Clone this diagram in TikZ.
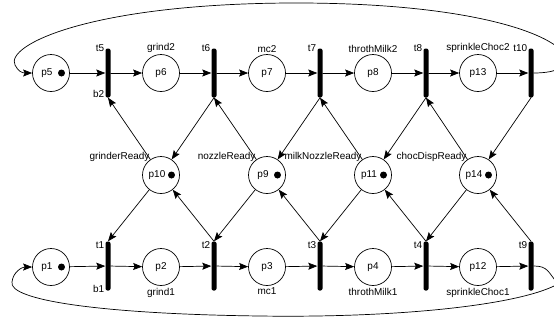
\documentclass[tikz,border=0pt]{standalone}
\usepackage{fontspec}
\setmainfont{Liberation Sans}
\usetikzlibrary{arrows.meta}

\begin{document}
\begin{tikzpicture}[x=1bp,y=-1bp,line join=round,line cap=round,>={Stealth[length=9bp,width=7bp,inset=1.5bp]},font=\fontsize{10}{12}\selectfont,
	place/.style={circle,draw,line width=0.7bp,minimum size=37bp,inner sep=0pt},
	marked/.style={label={[xshift=-4bp]center:#1},path picture={\fill ([xshift=10.5bp]path picture bounding box.center) circle (3.5bp);}},
	plain/.style={label={center:#1}},
	trans/.style={rectangle,fill,minimum width=5bp,minimum height=49bp,inner sep=0pt,rounded corners=2bp},
	arc/.style={->,line width=0.7bp}]
	\useasboundingbox (0,0) rectangle (554,322);
	% upper row
	\node [place,marked=p5] (p5) at (51,73) {};
	\node [trans,label={[anchor=east,inner sep=1bp]north west:t5},label={[anchor=east,inner sep=1bp,yshift=4bp]south west:b2}] (t5) at (108,73) {};
	\node [place,plain=p6,label={[inner sep=1bp]above:grind2}] (p6) at (161,73) {};
	\node [trans,label={[anchor=east,inner sep=1bp]north west:t6}] (t6) at (214,73) {};
	\node [place,plain=p7,label={[inner sep=1bp]above:mc2}] (p7) at (267,73) {};
	\node [trans,label={[anchor=east,inner sep=1bp]north west:t7}] (t7) at (320,73) {};
	\node [place,plain=p8,label={[inner sep=1bp]above:throthMilk2}] (p8) at (373,73) {};
	\node [trans,label={[anchor=east,inner sep=1bp]north west:t8}] (t8) at (426,73) {};
	\node [place,plain=p13,label={[inner sep=1bp]above:sprinkleChoc2}] (p13) at (478,73) {};
	\node [trans,label={[anchor=east,inner sep=1bp]north west:t10}] (t10) at (531,73) {};
	% resources
	\node [place,marked=p10,label={[anchor=south east,inner sep=0pt,xshift=2bp]north west:grinderReady}] (p10) at (161,175) {};
	\node [place,marked=p9,label={[anchor=south east,inner sep=0pt,xshift=2bp]north west:nozzleReady}] (p9) at (267,175) {};
	\node [place,marked=p11,label={[anchor=south east,inner sep=0pt,xshift=2bp]north west:milkNozzleReady}] (p11) at (373,175) {};
	\node [place,marked=p14,label={[anchor=south east,inner sep=0pt,xshift=2bp]north west:chocDispReady}] (p14) at (478,175) {};
	% lower row
	\node [place,marked=p1] (p1) at (51,267) {};
	\node [trans,label={[anchor=east,inner sep=1bp,yshift=-4bp]north west:t1},label={[anchor=east,inner sep=1bp,yshift=2bp]south west:b1}] (t1) at (108,266) {};
	\node [place,plain=p2,label={[inner sep=2bp]below:grind1}] (p2) at (161,267) {};
	\node [trans,label={[anchor=east,inner sep=1bp,yshift=-4bp]north west:t2}] (t2) at (214,266) {};
	\node [place,plain=p3,label={[inner sep=2bp]below:mc1}] (p3) at (267,267) {};
	\node [trans,label={[anchor=east,inner sep=1bp,yshift=-4bp]north west:t3}] (t3) at (320,266) {};
	\node [place,plain=p4,label={[inner sep=2bp]below:throthMilk1}] (p4) at (373,267) {};
	\node [trans,label={[anchor=east,inner sep=1bp,yshift=-4bp]north west:t4}] (t4) at (426,266) {};
	\node [place,plain=p12,label={[inner sep=2bp]below:sprinkleChoc1}] (p12) at (478,267) {};
	\node [trans,label={[anchor=east,inner sep=1bp,yshift=-4bp]north west:t9}] (t9) at (531,266) {};
	% flow arcs
	\draw [arc] (p5)--(t5);
	\draw [arc] (t5)--(p6);
	\draw [arc] (p6)--(t6);
	\draw [arc] (t6)--(p7);
	\draw [arc] (p7)--(t7);
	\draw [arc] (t7)--(p8);
	\draw [arc] (p8)--(t8);
	\draw [arc] (t8)--(p13);
	\draw [arc] (p13)--(t10);
	\draw [arc] (p1)--(t1);
	\draw [arc] (t1)--(p2);
	\draw [arc] (p2)--(t2);
	\draw [arc] (t2)--(p3);
	\draw [arc] (p3)--(t3);
	\draw [arc] (t3)--(p4);
	\draw [arc] (p4)--(t4);
	\draw [arc] (t4)--(p12);
	\draw [arc] (p12)--(t9);
	% resource arcs
	\draw [arc] (p10)--(t5.south);
	\draw [arc] (t6.south)--(p10);
	\draw [arc] (p9)--(t6.south);
	\draw [arc] (t7.south)--(p9);
	\draw [arc] (p11)--(t7.south);
	\draw [arc] (t8.south)--(p11);
	\draw [arc] (p14)--(t8.south);
	\draw [arc] (t10.south)--(p14);
	\draw [arc] (p10)--(t1.north);
	\draw [arc] (t2.north)--(p10);
	\draw [arc] (p9)--(t2.north);
	\draw [arc] (t3.north)--(p9);
	\draw [arc] (p11)--(t3.north);
	\draw [arc] (t4.north)--(p11);
	\draw [arc] (p14)--(t4.north);
	\draw [arc] (t9.north)--(p14);
	% loops back
	\draw [arc] (t10.east) .. controls (610,73) and (560,2) .. (290,3) .. controls (90,4) and (5,45) .. (15,65) .. controls (18,71) and (22,73) .. (p5.west);
	\draw [arc] (t9.east) .. controls (548,266) and (548,272) .. (558,284) .. controls (520,305) and (400,318) .. (260,316) .. controls (100,314) and (8,300) .. (12,282) .. controls (13,272) and (22,267) .. (p1.west);
\end{tikzpicture}
\end{document}
